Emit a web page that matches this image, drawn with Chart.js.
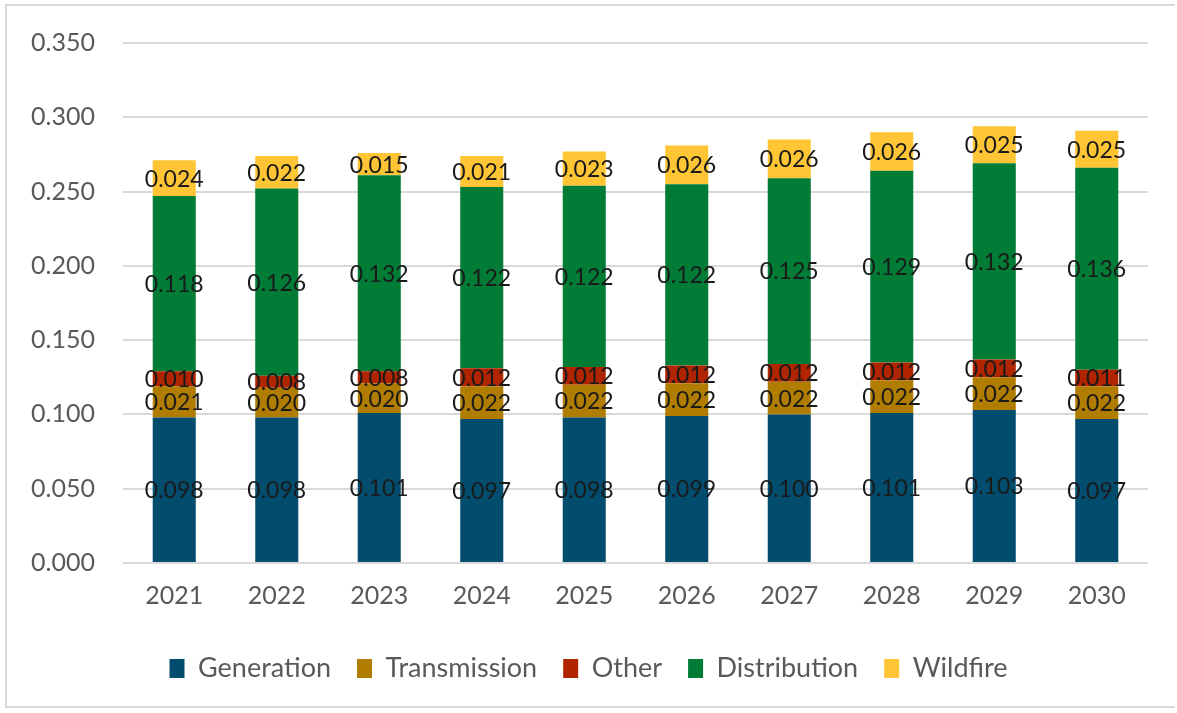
<!DOCTYPE html>
<html>
<head>
<meta charset="utf-8">
<script src="https://cdn.jsdelivr.net/npm/chart.js@4/dist/chart.umd.min.js"></script>
<style>
    html, body { margin: 0; padding: 0; background: #fff; }
    #frame {
        position: absolute; left: 5px; top: 4px; width: 1170px; height: 704px;
        border: 2px solid #d9d9d9; border-right: none; box-sizing: border-box;
    }
    #chart-wrap { position: absolute; left: 0; top: 0; width: 1177px; height: 713px; }
</style>
</head>
<body>
<div id="frame"></div>
<div id="chart-wrap"><canvas id="cost-chart"></canvas></div>
<script>
const years = ['2021', '2022', '2023', '2024', '2025', '2026', '2027', '2028', '2029', '2030'];
const generation   = [0.098, 0.098, 0.101, 0.097, 0.098, 0.099, 0.100, 0.101, 0.103, 0.097];
const transmission = [0.021, 0.020, 0.020, 0.022, 0.022, 0.022, 0.022, 0.022, 0.022, 0.022];
const other        = [0.010, 0.008, 0.008, 0.012, 0.012, 0.012, 0.012, 0.012, 0.012, 0.011];
const distribution = [0.118, 0.126, 0.132, 0.122, 0.122, 0.122, 0.125, 0.129, 0.132, 0.136];
const wildfire     = [0.024, 0.022, 0.015, 0.021, 0.023, 0.026, 0.026, 0.026, 0.025, 0.025];

const FONT = 'Lato, "Noto Sans", sans-serif';

// writes each segment's value in the middle of its bar piece
const segmentLabels = {
    id: 'segmentLabels',
    afterDatasetsDraw(chart) {
        const ctx = chart.ctx;
        ctx.save();
        ctx.font = '23px ' + FONT;
        ctx.fillStyle = '#1a1a1a';
        ctx.textAlign = 'center';
        ctx.textBaseline = 'middle';
        chart.data.datasets.forEach((ds, i) => {
            chart.getDatasetMeta(i).data.forEach((bar, j) => {
                const mid = (bar.y + bar.base) / 2;
                ctx.fillText(ds.data[j].toFixed(3), bar.x, mid + 1);
            });
        });
        ctx.restore();
    }
};

function makeSet(label, data, color) {
    return {
        label: label,
        data: data,
        backgroundColor: color,
        borderWidth: 0,
        barPercentage: 0.84,
        categoryPercentage: 0.5
    };
}

new Chart(document.getElementById('cost-chart').getContext('2d'), {
    type: 'bar',
    data: {
        labels: years,
        datasets: [
            makeSet('Generation', generation, '#024d6d'),
            makeSet('Transmission', transmission, '#b07d00'),
            makeSet('Other', other, '#b02500'),
            makeSet('Distribution', distribution, '#017c36'),
            makeSet('Wildfire', wildfire, '#ffc535')
        ]
    },
    options: {
        responsive: true,
        maintainAspectRatio: false,
        animation: false,
        layout: { padding: { left: 29, right: 29, top: 31, bottom: 21 } },
        scales: {
            x: {
                stacked: true,
                grid: { display: false, drawTicks: false },
                border: { display: false },
                ticks: { color: '#595959', font: { size: 25, family: FONT }, padding: 18 }
            },
            y: {
                stacked: true,
                min: 0,
                max: 0.35,
                grid: { color: '#d9d9d9', lineWidth: 2, drawTicks: false },
                border: { display: false },
                ticks: {
                    stepSize: 0.05,
                    color: '#595959',
                    font: { size: 25, family: FONT },
                    padding: 28,
                    callback: v => v.toFixed(3)
                },
                afterFit(scale) { scale.width = 94; }
            }
        },
        plugins: {
            legend: {
                position: 'bottom',
                labels: {
                    color: '#595959',
                    font: { size: 27, family: FONT },
                    boxWidth: 15,
                    boxHeight: 19,
                    padding: 26
                }
            },
            tooltip: { enabled: false }
        }
    },
    plugins: [segmentLabels]
});
</script>
</body>
</html>
